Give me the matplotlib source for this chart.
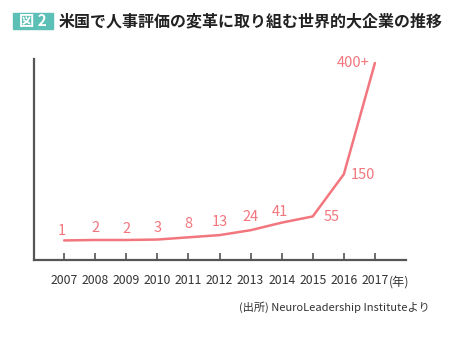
import matplotlib
matplotlib.use('Agg')
import matplotlib.pyplot as plt
from matplotlib.patches import Rectangle

plt.rcParams['font.family'] = ['Noto Sans CJK JP', 'DejaVu Sans']

# データ
years = [2007, 2008, 2009, 2010, 2011, 2012, 2013, 2014, 2015, 2016, 2017]
counts = [1, 2, 2, 3, 8, 13, 24, 41, 55, 150, 400]
labels = ['1', '2', '2', '3', '8', '13', '24', '41', '55', '150', '400+']
# ラベルの位置（ピクセル単位のずらし）
offsets = [(-2, 9), (0, 12), (0, 11), (0, 12), (0, 13), (0, 13), (0, 13),
           (-2, 11), (19, -1), (19, -1), (-22, 0)]

pink = '#f2767e'
teal = '#5cc0b6'
axis_gray = '#555555'

fig = plt.figure(figsize=(4.62, 3.38), dpi=100)
ax = fig.add_axes([34 / 462, 1 - 260 / 338, 372 / 462, 201 / 338])

ax.plot(years, counts, color=pink, lw=1.8, solid_capstyle='round')

for x, y, t, (dx, dy) in zip(years, counts, labels, offsets):
    ax.annotate(t, (x, y), xytext=(dx, dy), textcoords='offset pixels',
                ha='center', va='center', color=pink, fontsize=10.5)

ax.set_xlim(2006.03, 2018.0)
ax.set_ylim(-43, 409)
ax.set_xticks(years)
ax.set_xticklabels([str(y) for y in years], fontsize=8.8, color='#333333')
ax.set_yticks([])
ax.tick_params(axis='x', direction='in', length=5, width=1.2,
               color=axis_gray, pad=10)

for s in ['top', 'right']:
    ax.spines[s].set_visible(False)
for s in ['left', 'bottom']:
    ax.spines[s].set_color(axis_gray)
    ax.spines[s].set_linewidth(1.6)

# 単位
fig.text(399 / 462, 1 - 282 / 338, '(年)', ha='center', va='center',
         fontsize=8.8, color='#333333')

# タイトル
fig.patches.append(Rectangle((13 / 462, 1 - 29 / 338), 40 / 462, 16 / 338,
                             transform=fig.transFigure, color=teal))
fig.text(33 / 462, 1 - 21 / 338, '図 2', ha='center', va='center',
         fontsize=11, color='white', fontweight='bold')
fig.text(59 / 462, 1 - 21 / 338, '米国で人事評価の変革に取り組む世界的大企業の推移',
         ha='left', va='center', fontsize=11.5, color='#222222', fontweight='bold')

# 出所
fig.text(430 / 462, 1 - 307 / 338, '(出所) NeuroLeadership Instituteより',
         ha='right', va='center', fontsize=8, color='#333333')

fig.savefig('out.png', dpi=100)
